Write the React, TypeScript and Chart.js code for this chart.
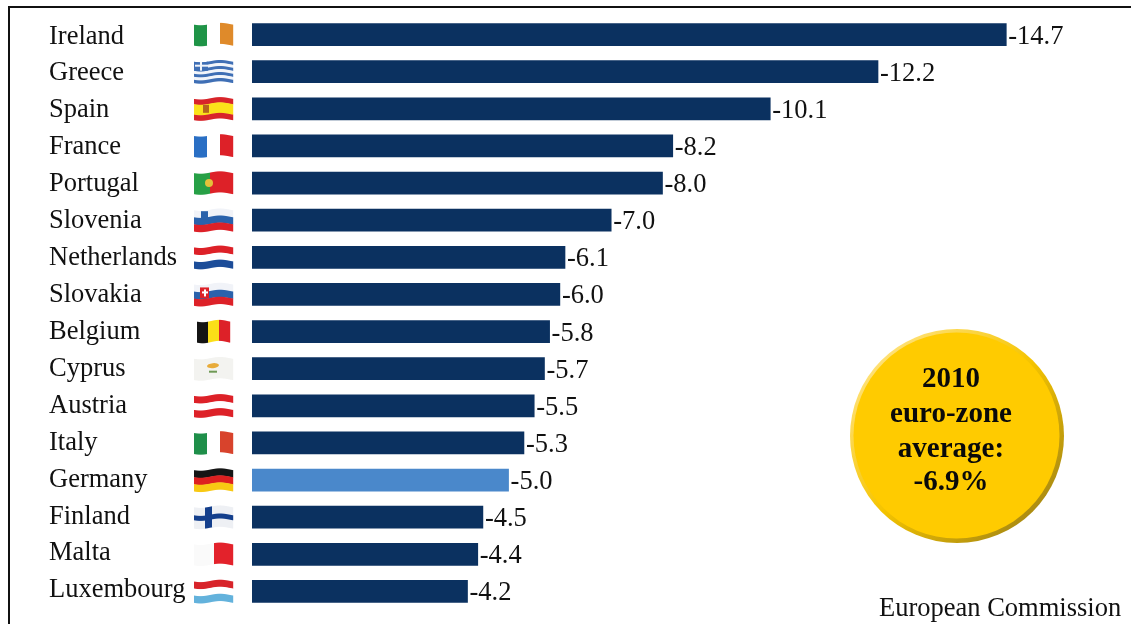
import { useRef, useEffect } from 'react'
import { Chart, registerables } from 'chart.js'

Chart.register(...registerables)

const countries = [
  'Ireland', 'Greece', 'Spain', 'France', 'Portugal', 'Slovenia', 'Netherlands', 'Slovakia',
  'Belgium', 'Cyprus', 'Austria', 'Italy', 'Germany', 'Finland', 'Malta', 'Luxembourg',
]
const deficits = [-14.7, -12.2, -10.1, -8.2, -8.0, -7.0, -6.1, -6.0, -5.8, -5.7, -5.5, -5.3, -5.0, -4.5, -4.4, -4.2]
const highlighted = 'Germany'
const badgeLines = ['2010', 'euro-zone', 'average:', '-6.9%']
const sourceText = 'European Commission'

const SERIF = '"Liberation Serif", serif'
const NAVY = '#0b3160'
const LIGHT_BLUE = '#4a88cb'

type Flag = { dir: 'h' | 'v'; stripes: [string, number][]; x?: number; w?: number; extra?: string }

// stripe colour + relative size, drawn with a small wave
const flags: Record<string, Flag> = {
  Ireland: { dir: 'v', stripes: [['#1f9447', 1], ['#ffffff', 1], ['#df8a2a', 1]] },
  Greece: { dir: 'h', stripes: [['#3f6fb5', 1], ['#f2f5fa', 1], ['#3f6fb5', 1], ['#f2f5fa', 1], ['#3f6fb5', 1], ['#f2f5fa', 1], ['#3f6fb5', 1]], extra: 'greece' },
  Spain: { dir: 'h', stripes: [['#d8242a', 1], ['#fbe11a', 2], ['#d8242a', 1]], extra: 'spain' },
  France: { dir: 'v', stripes: [['#2a6fc4', 1], ['#ffffff', 1], ['#dd2128', 1]] },
  Portugal: { dir: 'v', stripes: [['#27a046', 2], ['#dd2128', 3]], extra: 'portugal' },
  Slovenia: { dir: 'h', stripes: [['#f1f3f8', 1], ['#2a62ab', 1], ['#dd2128', 1]], extra: 'slovenia' },
  Netherlands: { dir: 'h', stripes: [['#dd2128', 1], ['#ffffff', 1], ['#1c4d99', 1]] },
  Slovakia: { dir: 'h', stripes: [['#f1f3f8', 1], ['#2a62ab', 1], ['#dd2128', 1]], extra: 'slovakia' },
  Belgium: { dir: 'v', stripes: [['#141414', 1], ['#fbdf18', 1], ['#dd2128', 1]], x: 3, w: 33 },
  Cyprus: { dir: 'h', stripes: [['#f3f3f0', 1]], extra: 'cyprus' },
  Austria: { dir: 'h', stripes: [['#dd2128', 1], ['#ffffff', 1], ['#dd2128', 1]] },
  Italy: { dir: 'v', stripes: [['#1f8f4a', 1], ['#ffffff', 1], ['#d8432c', 1]] },
  Germany: { dir: 'h', stripes: [['#151515', 1], ['#dd2020', 1], ['#f8c913', 1]] },
  Finland: { dir: 'h', stripes: [['#eef0f4', 1]], extra: 'finland' },
  Malta: { dir: 'v', stripes: [['#fafafa', 1], ['#e3222b', 1]] },
  Luxembourg: { dir: 'h', stripes: [['#d8242a', 1], ['#ffffff', 1], ['#63b2dc', 1]] },
}

function drawFlag(ctx: CanvasRenderingContext2D, name: string, y: number) {
  const flag = flags[name]
  if (!flag) return
  const left = 194 + (flag.x ?? 0)
  const width = flag.w ?? 39
  const height = 21
  const total = flag.stripes.reduce((s, [, n]) => s + n, 0)
  const wave = (i: number) => Math.sin((i / width) * Math.PI * 2 + 0.6) * 1.2
  ctx.save()
  ctx.filter = 'blur(0.7px)'
  for (let i = 0; i < width; i++) {
    const top = y - height / 2 + wave(i)
    if (flag.dir === 'v') {
      let acc = 0
      let color = flag.stripes[0][0]
      for (const [c, n] of flag.stripes) {
        if (i / width >= acc / total) color = c
        acc += n
      }
      ctx.fillStyle = color
      ctx.fillRect(left + i, top, 1.2, height)
    } else {
      let acc = 0
      for (const [c, n] of flag.stripes) {
        ctx.fillStyle = c
        ctx.fillRect(left + i, top + (acc / total) * height, 1.2, (n / total) * height + 0.3)
        acc += n
      }
    }
    if (flag.extra === 'finland') {
      ctx.fillStyle = '#143f8c'
      ctx.fillRect(left + i, top + 8, 1.2, 5)
      if (i >= 11 && i < 18) ctx.fillRect(left + i, top, 1.2, height)
    }
    if (flag.extra === 'greece' && i < 14) {
      ctx.fillStyle = '#3f6fb5'
      ctx.fillRect(left + i, top, 1.2, 9)
    }
  }
  if (flag.extra === 'greece') {
    ctx.fillStyle = '#f2f5fa'
    ctx.fillRect(left + 6, y - 10, 2, 9)
    ctx.fillRect(left + 1, y - 7, 13, 2)
  }
  if (flag.extra === 'spain') {
    ctx.fillStyle = '#b5651d'
    ctx.fillRect(left + 9, y - 4, 6, 8)
  }
  if (flag.extra === 'portugal') {
    ctx.fillStyle = '#e3c13a'
    ctx.beginPath()
    ctx.arc(left + 15, y, 4, 0, Math.PI * 2)
    ctx.fill()
  }
  if (flag.extra === 'slovenia') {
    ctx.fillStyle = '#2a62ab'
    ctx.fillRect(left + 7, y - 9, 7, 8)
  }
  if (flag.extra === 'slovakia') {
    ctx.fillStyle = '#dd2128'
    ctx.fillRect(left + 6, y - 7, 9, 11)
    ctx.fillStyle = '#ffffff'
    ctx.fillRect(left + 10, y - 5, 2, 7)
    ctx.fillRect(left + 8, y - 3, 6, 2)
  }
  if (flag.extra === 'cyprus') {
    ctx.fillStyle = '#e8ab3a'
    ctx.beginPath()
    ctx.ellipse(left + 19, y - 3, 6, 2.5, -0.1, 0, Math.PI * 2)
    ctx.fill()
    ctx.fillStyle = '#6f9a55'
    ctx.fillRect(left + 15, y + 2, 8, 2)
  }
  ctx.restore()
}

const overlayPlugin = {
  id: 'overlay',
  beforeDatasetsDraw(chart: Chart) {
    const ctx = chart.ctx
    const yScale = chart.scales.y
    ctx.save()
    // frame: top and left only, open on the other sides
    ctx.strokeStyle = '#111111'
    ctx.lineWidth = 2
    ctx.beginPath()
    ctx.moveTo(9, 624)
    ctx.lineTo(9, 7)
    ctx.lineTo(1131, 7)
    ctx.stroke()
    countries.forEach((name, i) => drawFlag(ctx, name, yScale.getPixelForValue(i)))

    // names drift slightly above the bars further down the list
    ctx.fillStyle = '#111111'
    ctx.textBaseline = 'middle'
    ctx.textAlign = 'left'
    ctx.font = `26.5px ${SERIF}`
    countries.forEach((name, i) => ctx.fillText(name, 49, yScale.getPixelForValue(i) + 2 - i * 0.2))
    ctx.restore()
  },
  afterDatasetsDraw(chart: Chart) {
    const ctx = chart.ctx
    const bars = chart.getDatasetMeta(0).data
    ctx.save()
    ctx.fillStyle = '#111111'
    ctx.textBaseline = 'middle'
    ctx.textAlign = 'left'
    ctx.font = `26.5px ${SERIF}`
    bars.forEach((bar, i) => {
      ctx.fillText(deficits[i].toFixed(1), bar.x + 2, bar.y + 2)
    })

    // average badge
    const cx = 957
    const cy = 436
    const rim = ctx.createLinearGradient(cx - 80, cy - 80, cx + 80, cy + 80)
    rim.addColorStop(0, '#ffe27a')
    rim.addColorStop(0.5, '#f5c400')
    rim.addColorStop(1, '#a98a12')
    ctx.fillStyle = rim
    ctx.beginPath()
    ctx.arc(cx, cy, 107, 0, Math.PI * 2)
    ctx.fill()
    ctx.fillStyle = '#ffcb00'
    ctx.beginPath()
    ctx.arc(cx - 0.5, cy - 0.5, 103, 0, Math.PI * 2)
    ctx.fill()

    ctx.fillStyle = '#0a0a0a'
    ctx.textAlign = 'center'
    ctx.font = `bold 29px ${SERIF}`
    const lineY = [380, 415, 450, 483]
    badgeLines.forEach((line, i) => ctx.fillText(line, cx - 6, lineY[i]))

    ctx.fillStyle = '#111111'
    ctx.textAlign = 'left'
    ctx.font = `26.5px ${SERIF}`
    ctx.fillText(sourceText, 879, 609)
    ctx.restore()
  },
}

export default function App() {
  const canvasRef = useRef<HTMLCanvasElement>(null)

  useEffect(() => {
    if (!canvasRef.current) return

    const chart = new Chart(canvasRef.current, {
      type: 'bar',
      data: {
        labels: countries,
        datasets: [
          {
            data: deficits,
            backgroundColor: countries.map((c) => (c === highlighted ? LIGHT_BLUE : NAVY)),
            barThickness: 22,
            borderWidth: 0,
          },
        ],
      },
      options: {
        indexAxis: 'y',
        animation: false,
        responsive: false,
        devicePixelRatio: 1,
        layout: { padding: { left: 49, top: 16, bottom: 14, right: 58 } },
        plugins: { legend: { display: false }, tooltip: { enabled: false } },
        scales: {
          x: { display: false, reverse: true, min: -16, max: 0 },
          y: {
            grid: { display: false, drawTicks: false },
            border: { display: false },
            ticks: { display: false },
            afterFit: (scale) => {
              scale.width = 203
            },
          },
        },
      },
      plugins: [overlayPlugin],
    })

    return () => {
      chart.destroy()
    }
  }, [])

  return (
    <div style={{ position: 'absolute', left: 0, top: 0, width: 1131, height: 624, background: '#ffffff' }}>
      <canvas ref={canvasRef} width={1131} height={624} style={{ display: 'block' }} />
    </div>
  )
}
